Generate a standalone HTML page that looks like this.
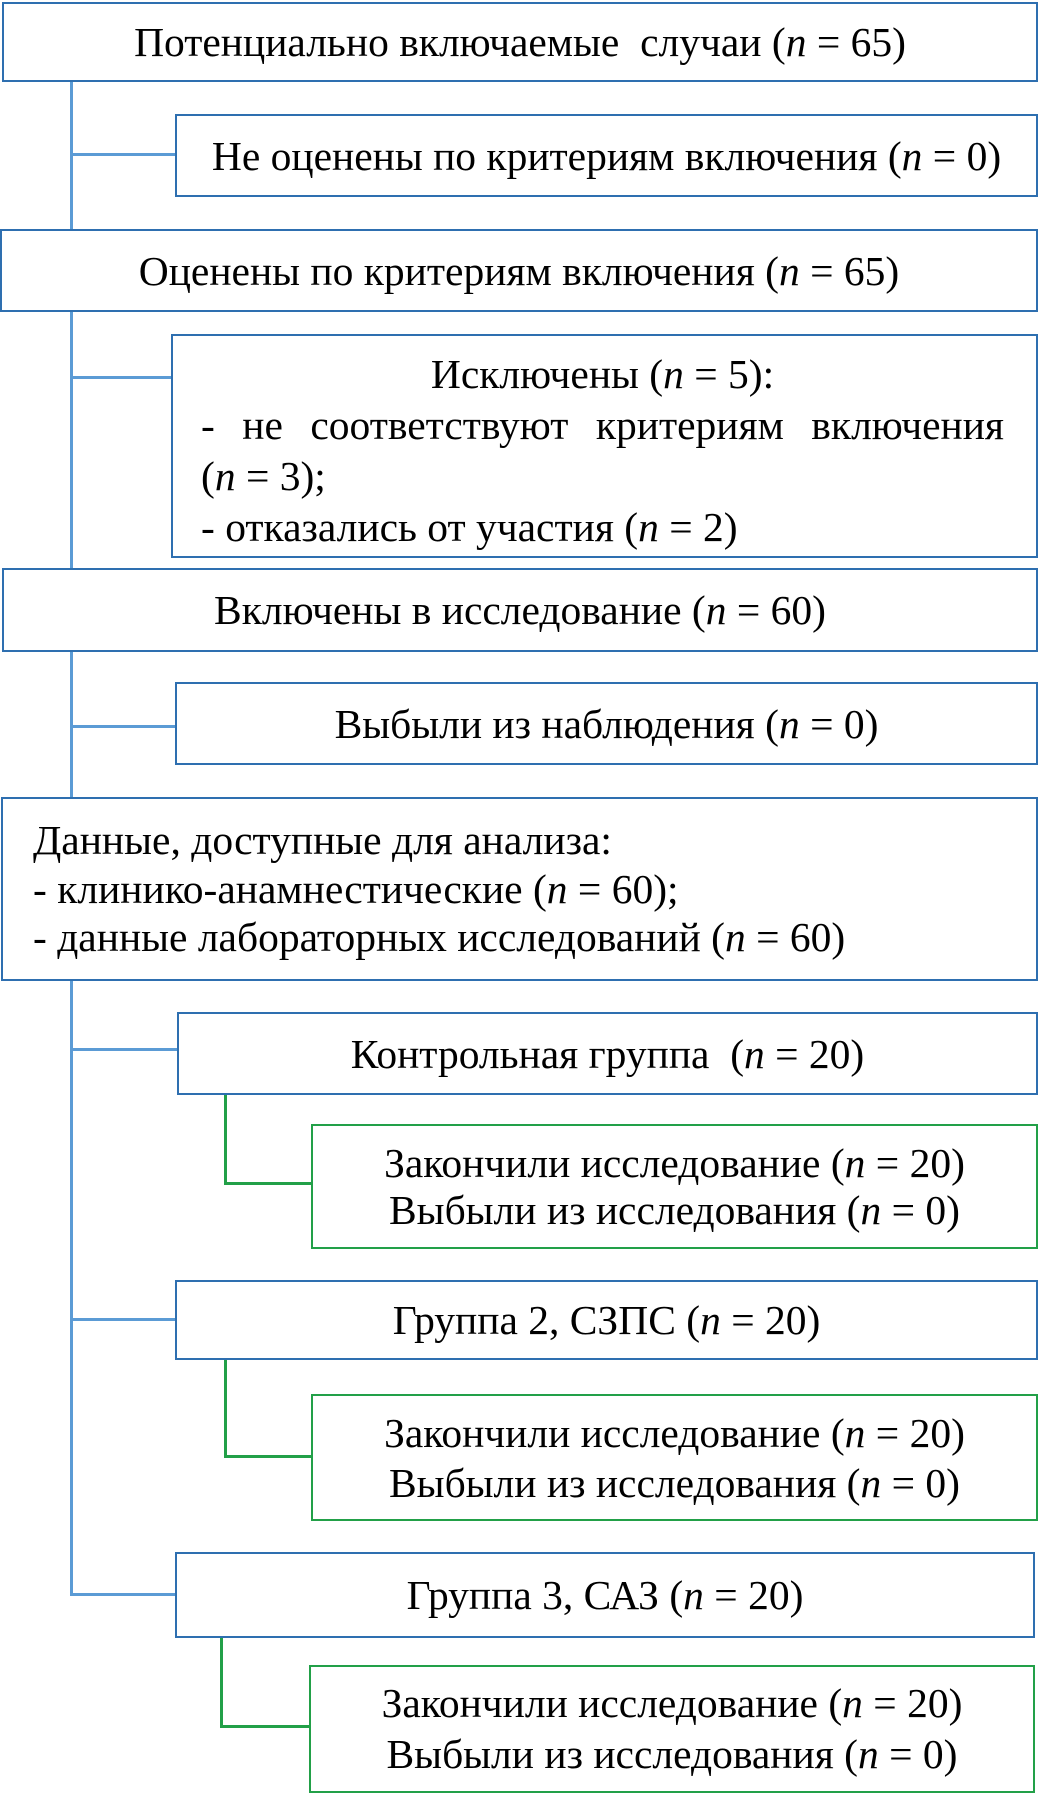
<!DOCTYPE html>
<html><head><meta charset="utf-8"><style>
body{margin:0;width:1039px;height:1797px;background:#fff;position:relative;overflow:hidden;font-family:"Liberation Serif",serif;color:#000}
.b{position:absolute;box-sizing:border-box;border:2.5px solid #2e6fb0;background:#fff;display:flex;flex-direction:column;justify-content:center;align-items:center;font-size:41.5px;line-height:46px;text-align:center}
.b>div{white-space:nowrap}
.g{border-color:#22a048}
.l{position:absolute;background:#5b9bd5}
.gl{position:absolute;background:#22a048}
i{font-style:italic}
</style></head><body>
<div class="l" style="left:70px;top:80px;width:2.5px;height:1515px"></div>
<div class="l" style="left:70px;top:153px;width:106px;height:2.5px"></div>
<div class="l" style="left:70px;top:376px;width:102px;height:2.5px"></div>
<div class="l" style="left:70px;top:725px;width:106px;height:2.5px"></div>
<div class="l" style="left:70px;top:1048px;width:108px;height:2.5px"></div>
<div class="l" style="left:70px;top:1318px;width:106px;height:2.5px"></div>
<div class="l" style="left:70px;top:1593px;width:106px;height:2.5px"></div>
<div class="gl" style="left:224px;top:1092px;width:2.5px;height:92px"></div>
<div class="gl" style="left:224px;top:1182px;width:88px;height:2.5px"></div>
<div class="gl" style="left:224px;top:1358px;width:2.5px;height:98px"></div>
<div class="gl" style="left:224px;top:1455px;width:88px;height:2.5px"></div>
<div class="gl" style="left:220px;top:1635px;width:2.5px;height:92px"></div>
<div class="gl" style="left:220px;top:1725px;width:90px;height:2.5px"></div>

<div class="b" style="left:2px;top:2px;width:1036px;height:80px"><div>Потенциально включаемые&nbsp; случаи (<i>n</i> = 65)</div></div>
<div class="b" style="left:175px;top:114px;width:863px;height:83px"><div>Не оценены по критериям включения (<i>n</i> = 0)</div></div>
<div class="b" style="left:0px;top:229px;width:1038px;height:83px"><div>Оценены по критериям включения (<i>n</i> = 65)</div></div>
<div class="b" style="left:171px;top:334px;width:867px;height:224px;align-items:stretch;padding:10px 32px 0 28px;text-align:left;line-height:51px">
<div style="text-align:center">Исключены (<i>n</i> = 5):</div>
<div style="text-align:justify;text-align-last:justify;white-space:normal">- не соответствуют критериям включения</div>
<div>(<i>n</i> = 3);</div>
<div>- отказались от участия (<i>n</i> = 2)</div>
</div>
<div class="b" style="left:2px;top:568px;width:1036px;height:84px"><div>Включены в исследование (<i>n</i> = 60)</div></div>
<div class="b" style="left:175px;top:682px;width:863px;height:83px"><div>Выбыли из наблюдения (<i>n</i> = 0)</div></div>
<div class="b" style="left:1px;top:797px;width:1037px;height:184px;align-items:flex-start;padding-left:30px;text-align:left;line-height:48.5px">
<div>Данные, доступные для анализа:</div>
<div>- клинико-анамнестические (<i>n</i> = 60);</div>
<div>- данные лабораторных исследований (<i>n</i> = 60)</div>
</div>
<div class="b" style="left:177px;top:1012px;width:861px;height:83px"><div>Контрольная группа&nbsp; (<i>n</i> = 20)</div></div>
<div class="b g" style="left:311px;top:1124px;width:727px;height:125px;line-height:47px"><div>Закончили исследование (<i>n</i> = 20)</div><div>Выбыли из исследования (<i>n</i> = 0)</div></div>
<div class="b" style="left:175px;top:1280px;width:863px;height:80px"><div>Группа 2, СЗПС (<i>n</i> = 20)</div></div>
<div class="b g" style="left:311px;top:1394px;width:727px;height:127px;line-height:50px"><div>Закончили исследование (<i>n</i> = 20)</div><div>Выбыли из исследования (<i>n</i> = 0)</div></div>
<div class="b" style="left:175px;top:1552px;width:860px;height:86px"><div>Группа 3, САЗ (<i>n</i> = 20)</div></div>
<div class="b g" style="left:309px;top:1665px;width:726px;height:128px;line-height:51px"><div>Закончили исследование (<i>n</i> = 20)</div><div>Выбыли из исследования (<i>n</i> = 0)</div></div>
</body></html>
